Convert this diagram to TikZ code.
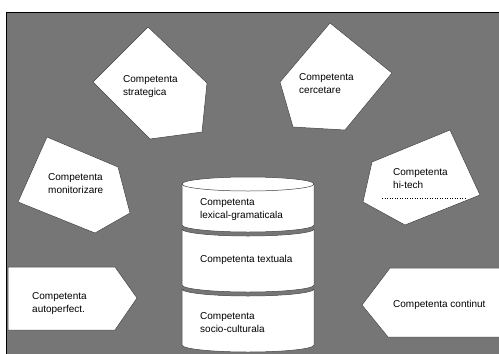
\documentclass[tikz,border=0pt]{standalone}
\usepackage{fontspec}
\setmainfont{Liberation Sans}
\definecolor{bg}{RGB}{118,118,118}
\begin{document}
\begin{tikzpicture}[x=1pt,y=-1pt,
  shp/.style={fill=white,draw=black!75,line width=0.5pt,line join=round},
  lbl/.style={anchor=north west,align=left,inner sep=0pt,font=\fontsize{10}{13}\selectfont}]
\useasboundingbox (0,0) rectangle (499,354);
\fill[bg] (6,12) rectangle (499,354);
\draw[line width=0.8pt] (6,354) -- (6,12) -- (499,12);
% pentagons
\draw[shp] (148,27) -- (207,83) -- (202,132) -- (150,139) -- (93,82) -- cycle;
\draw[shp] (330,23) -- (392,73) -- (345,130) -- (293,127) -- (280,82) -- cycle;
\draw[shp] (47,137) -- (118,167) -- (130,213) -- (95,233) -- (18,202) -- cycle;
\draw[shp] (450,130) -- (480,195) -- (405,225) -- (363,202) -- (372,162) -- cycle;
% arrows
\draw[shp] (8,267) -- (115,267) -- (137,298) -- (115,330) -- (8,330) -- cycle;
\fill[white] (499,268) -- (390,268) -- (362,305) -- (388,337) -- (499,337) -- cycle;
\draw[shp,fill=none] (499,268) -- (390,268) -- (362,305) -- (388,337) -- (499,337);
% cylinder
\draw[shp] (182,184) -- (182,225) arc[start angle=180,end angle=0,x radius=66,y radius=7]
  -- (314,184) arc[start angle=0,end angle=-180,x radius=66,y radius=7] -- cycle;
\draw[black!75,line width=0.5pt] (182,184) arc[start angle=180,end angle=0,x radius=66,y radius=7];
\draw[shp] (182,229) arc[start angle=180,end angle=0,x radius=66,y radius=7]
  -- (314,285) arc[start angle=0,end angle=180,x radius=66,y radius=7] -- cycle;
\draw[shp] (182,289) arc[start angle=180,end angle=0,x radius=66,y radius=7]
  -- (314,345) arc[start angle=0,end angle=180,x radius=66,y radius=7] -- cycle;
% labels
\node[lbl] (strat) at (123,75) {Competenta\\strategica};
\node[lbl] (cerc) at (299,73) {Competenta\\cercetare};
\node[lbl] (monit) at (48,173) {Competenta\\monitorizare};
\node[lbl] (hitech) at (393,168) {Competenta\\hi-tech};
\draw[dotted,line width=0.5pt] (382,198) -- (465,198);
\node[lbl] (auto) at (32,292) {Competenta\\autoperfect.};
\node[lbl] (cont) at (393,300) {Competenta continut};
\node[lbl] (lex) at (200,198) {Competenta\\lexical-gramaticala};
\node[lbl] (text) at (200,255) {Competenta textuala};
\node[lbl] (socio) at (200,312) {Competenta\\socio-culturala};
\end{tikzpicture}
\end{document}
